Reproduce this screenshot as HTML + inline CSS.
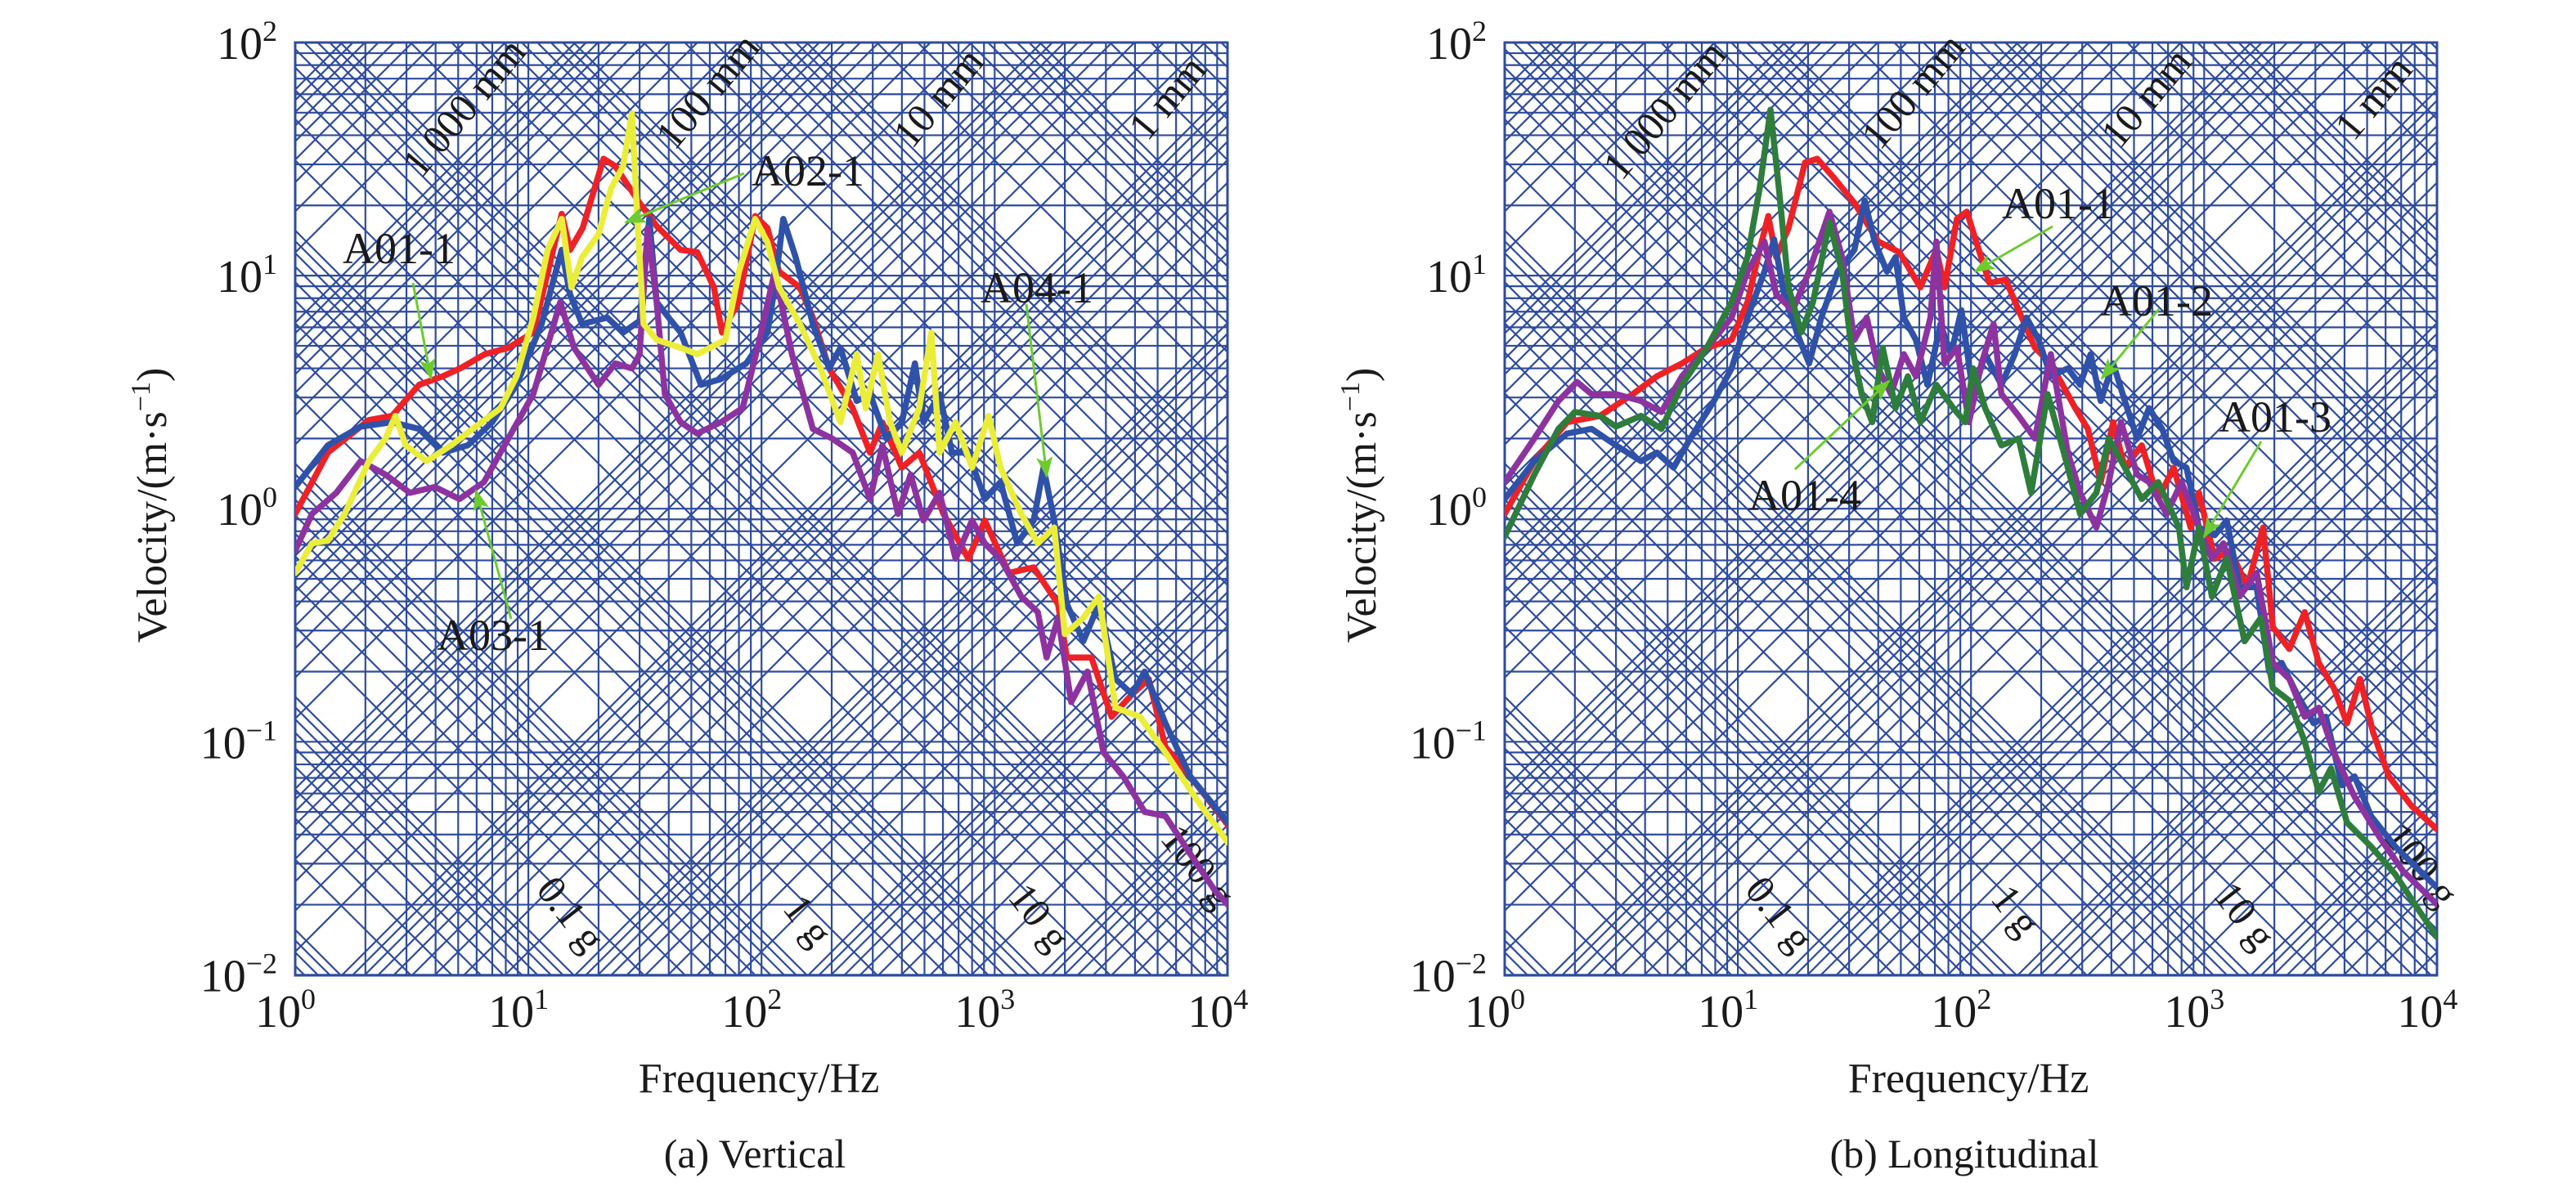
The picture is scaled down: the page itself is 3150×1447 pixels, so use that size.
<!DOCTYPE html>
<html><head><meta charset="utf-8"><title>Tripartite velocity spectra</title>
<style>
html,body{margin:0;padding:0;background:#fff;width:3150px;height:1447px;overflow:hidden;}
svg{display:block;}
text{font-family:"Liberation Serif","Times New Roman",serif;fill:#1a1a1a;}
</style></head>
<body>
<svg id="chart" width="3150" height="1447" viewBox="0 0 3150 1447" xmlns="http://www.w3.org/2000/svg" style="overflow:hidden">
<defs>
<marker id="ah" markerWidth="26" markerHeight="20" refX="24" refY="10" orient="auto" markerUnits="userSpaceOnUse">
<path d="M0,0 L26,10 L0,20 L6,10 z" fill="#6ccb2e"/>
</marker>
<clipPath id="clipL"><rect x="361" y="52" width="1140" height="1141"/></clipPath>
<clipPath id="clipR"><rect x="1840" y="52" width="1140" height="1141"/></clipPath>
</defs>
</svg>
<script>
// ---------- Data: (a) Vertical ----------
const freqV_A01_1=[1,1.38,2.07,2.6,3.4,4.3,5.1,6.5,8.2,10.5,12.3,13.9,15.1,17.1,21,23.6,30,35.5,45,53,62.5,67.7,79.6,94,106,119,146,166,195,246,292,330,400,475,603,710,771,907,1150,1470,1870,2040,2600,3170,3890,4580,5400,6900,10000];
const velV_A01_1=[0.95,1.74,2.4,2.5,3.4,3.7,4.0,4.6,4.9,5.7,11,18.4,12.9,16,31.7,29.5,20.5,16.3,12.9,12.6,8.9,5.7,7.7,18,16,10.4,8.9,6.6,4.0,2.7,1.74,2.34,1.5,1.74,0.95,0.71,0.61,0.89,0.53,0.56,0.39,0.23,0.23,0.128,0.16,0.186,0.095,0.071,0.044];
const freqV_A02_1=[1,1.38,1.91,2.6,3.4,4.3,5.5,7,8.9,11.4,13.9,15.1,17,21.8,25.5,30,33,35.5,40,45,55,67,86,106,114,124,140,166,195,218,256,292,343,400,455,495,580,656,771,907,1060,1250,1470,1620,1800,2040,2400,2800,3300,3890,4400,5400,6900,10000];
const velV_A02_1=[1.24,1.87,2.25,2.35,2.2,1.74,1.87,2.35,3.4,6.2,12.9,8.3,6.2,6.6,5.7,6.4,17.5,7.7,6.6,5.7,3.4,3.6,4.2,5.7,8.9,17.5,12,6.2,4.0,4.9,2.9,3.1,2.0,2.35,4.2,2.35,3.1,1.74,1.74,1.1,1.3,0.71,0.89,1.5,0.89,0.39,0.27,0.39,0.186,0.16,0.2,0.12,0.071,0.045];
const freqV_A04_1=[1,1.18,1.38,1.63,2.07,2.44,2.69,2.98,3.66,4.66,5.95,7.6,8.9,10.5,12.1,13.9,15.3,17,20,22.6,25.5,27.8,29.5,31.2,35.5,45,53,62.5,70,80,94,106,119,146,179,218,256,280,316,356,400,475,535,580,680,800,942,1060,1300,1530,1800,2000,2400,2800,3300,4200,5400,7400,10000];
const velV_A04_1=[0.53,0.71,0.73,0.95,1.6,2.0,2.5,1.87,1.6,1.87,2.25,2.7,3.7,6.6,12.9,17.5,8.9,12,15,23.6,29.5,49.6,16,6.2,5.3,4.9,4.6,5,5.3,10.4,17.5,13.9,8.9,6.2,4,2.35,4.6,2.7,4.6,2.35,1.74,2.7,5.7,1.74,2.35,1.5,2.5,1.5,0.95,0.71,0.83,0.29,0.34,0.42,0.14,0.128,0.09,0.056,0.037];
const freqV_A03_1=[1,1.18,1.5,1.91,2.44,3.1,3.97,5.06,6.45,8.2,10.5,12.3,13.7,15.7,20,23.6,27.8,30,32.5,35.5,38.5,45,53,67,83,98,114,135,166,201,246,292,330,385,436,495,580,680,800,907,1060,1300,1530,1670,1870,2130,2500,2930,3560,4400,5400,6900,8800,10000];
const velV_A03_1=[0.66,0.95,1.17,1.6,1.4,1.17,1.24,1.1,1.3,2.0,3.1,5.3,7.7,4.9,3.4,4.2,4.0,4.6,16,7.7,3.1,2.35,2.1,2.35,2.7,5.3,10.4,4.6,2.2,2.0,1.74,1.1,1.87,0.95,1.4,0.89,1.17,0.61,0.89,0.71,0.61,0.42,0.36,0.23,0.34,0.148,0.2,0.09,0.071,0.05,0.048,0.033,0.023,0.02];
// ---------- Data: (b) Longitudinal ----------
const freqL_A01_1=[1,1.34,1.85,2.56,3.54,4.5,5.76,7.36,9.4,11,12.4,13.5,14.6,16.5,19.4,21.9,25.8,31.6,40,49.3,60.6,71,77,87,96,108,120,141,160,188,220,280,317,360,407,457,540,635,740,875,950,1110,1300,1530,1790,1970,2320,2700,3100,3600,4100,4660,5300,6200,7760,10000];
const velL_A01_1=[0.95,1.6,2.35,2.5,3.1,3.7,4.2,4.9,5.3,7.7,12.9,18,12,16,30.5,31.7,26.3,20.5,14,12.6,8.9,12.9,8.9,17.5,18.8,12.9,9.3,9.6,7.1,4.9,4.2,2.7,2.2,1.3,2.35,1.5,1.87,1.1,1.5,0.83,1.17,0.61,0.66,0.46,0.83,0.31,0.25,0.36,0.218,0.17,0.12,0.186,0.11,0.071,0.053,0.042];
const freqL_A01_2=[1,1.34,1.85,2.36,3.0,3.84,4.5,5.3,6.25,7.9,9.4,11,13,14.3,15.8,17.9,20.2,22.8,26.8,31.6,35,38.6,43.6,47.5,51.5,58,65,74,82,91,102,115,135,154,173,195,220,260,294,326,360,407,457,516,580,660,740,840,950,1110,1250,1420,1680,1900,2150,2500,2950,3330,3900,4420,5200,6600,8400,10000];
const velL_A01_2=[1.1,1.6,2.1,2.2,1.87,1.6,1.74,1.5,2.0,2.9,4.0,6.6,10.4,14.3,8.3,5.7,4.2,6.6,10.4,12.9,21,14,10.4,12,6.6,5.3,3.4,6.2,4.6,7.1,3.1,4.6,3.4,4.6,6.6,5.3,3.7,4.0,3.4,4.6,2.9,4.2,2.9,2.0,2.7,2.2,1.6,1.5,0.83,0.77,0.89,0.46,0.46,0.2,0.218,0.16,0.12,0.128,0.065,0.071,0.048,0.0355,0.028,0.0236];
const freqL_A01_3=[1,1.34,1.7,2.04,2.36,3,3.84,4.7,5.76,7.36,9.4,11,13,14.6,17.2,20.2,24.7,28,31.6,35.7,40,45.4,51.5,58,67,71,77,87,98,111,125,135,160,188,220,260,294,345,390,440,516,580,690,800,950,1080,1210,1420,1680,1970,2320,2700,3100,3600,4420,5650,7100,10000];
const velL_A01_3=[1.3,2.0,2.9,3.5,3.1,3.1,2.9,2.6,3.7,4.9,6.6,10.4,14,8.3,7.1,10.4,18.8,12,5.3,6.6,4,3.1,4.6,3.7,6.6,14,4.2,4.9,2.35,4.2,6.2,3.1,2.5,2.0,4.6,1.74,1.17,0.83,1.3,2.35,1.4,1.3,0.95,1.3,0.83,0.61,0.71,0.42,0.53,0.218,0.186,0.128,0.14,0.09,0.058,0.039,0.028,0.02];
const freqL_A01_4=[1,1.34,1.7,2,2.56,3,3.84,4.7,5.76,7.36,9.4,11,12.4,13.8,15,16.5,18.7,21,24.7,28,30.4,34,37.7,41.8,47.5,53.6,60.6,71,84,94.5,102,115,135,160,181,213,250,294,345,390,457,540,635,780,840,950,1080,1250,1490,1750,1970,2320,2700,3100,3500,4100,5200,6600,8400,10000];
const velL_A01_4=[0.76,1.4,2.2,2.6,2.5,2.25,2.5,2.2,3.4,4.9,7.7,12,23.6,51.5,23.6,8.9,5.7,7.7,16.9,10.4,5.3,3.1,2.35,4.9,2.7,3.7,2.35,3.4,2.7,2.35,4.0,2.7,1.87,2.0,1.17,3.1,1.74,0.95,1.17,2.0,1.5,1.1,1.3,0.83,0.46,0.83,0.42,0.61,0.27,0.34,0.17,0.15,0.1,0.061,0.077,0.045,0.0355,0.027,0.0187,0.0145];
// ---------- Grid levels ----------
const gridMultipliers=[1,2,3,4,5,6,7,8,9];
const dispDecades=[-9,-8,-7,-6,-5,-4,-3,-2,-1,0,1];
const accDecades=[-3,-2,-1,0,1,2,3,4,5,6];
const xTickExp=[0,1,2,3,4];
const yTickExp=[2,1,0,-1,-2];
const dispLabels=["1 000 mm","100 mm","10 mm","1 mm"];
const accLabels=["0.1 g","1 g","10 g","100 g"];

const NS="http://www.w3.org/2000/svg";
const svg=document.getElementById('chart');
const DEC=285.1, TOP=52, H=1141, W=1140;
function mk(tag,attrs,parent){const e=document.createElementNS(NS,tag);for(const k in attrs)e.setAttribute(k,attrs[k]);(parent||svg).appendChild(e);return e;}

function drawPanel(x0,clipId,series,panelName,title,labels,dispPos,accPos){
  const g=mk('g',{});
  
  
  const xs=f=>x0+Math.log10(f)*DEC;
  const ys=v=>TOP+(2-Math.log10(v))*DEC;
  const grid=mk('g',{'clip-path':'url(#'+clipId+')',stroke:'#2e4b9d','stroke-width':2.2,fill:'none'},g);
  
  
  for(let e=0;e<4;e++)for(const m of gridMultipliers){const x=xs(m*Math.pow(10,e));mk('line',{x1:x,y1:TOP,x2:x,y2:TOP+H},grid);}
  for(let e=-2;e<2;e++)for(const m of gridMultipliers){const y=ys(m*Math.pow(10,e));mk('line',{x1:x0,y1:y,x2:x0+W,y2:y},grid);}
  for(const e of dispDecades)for(const m of gridMultipliers){const D=m*Math.pow(10,e);const f1=1,f2=1e4;
    mk('line',{x1:xs(f1),y1:ys(2*Math.PI*f1*D),x2:xs(f2),y2:ys(2*Math.PI*f2*D)},grid);}
  for(const e of accDecades)for(const m of gridMultipliers){const A=m*Math.pow(10,e)*9.81;const f1=1,f2=1e4;
    mk('line',{x1:xs(f1),y1:ys(A/(2*Math.PI*f1)),x2:xs(f2),y2:ys(A/(2*Math.PI*f2))},grid);}
  mk('rect',{x:x0,y:TOP,width:W,height:H,fill:'none',stroke:'#2e4b9d','stroke-width':3},g);
  dispLabels.forEach((t,i)=>{const p=dispPos[i];const tx=mk('text',{x:p[0],y:p[1],'font-size':50,'text-anchor':'middle',transform:'rotate(-50 '+p[0]+' '+p[1]+')'},g);tx.textContent=t;
    
    });
  accLabels.forEach((t,i)=>{const p=accPos[i];const tx=mk('text',{x:p[0],y:p[1],'font-size':50,'text-anchor':'middle',transform:'rotate(52 '+p[0]+' '+p[1]+')'},g);tx.textContent=t;
    
    });
  const sg=mk('g',{'clip-path':'url(#'+clipId+')'},g);
  series.forEach(s=>{let d='';s.f.forEach((f,i)=>{d+=(i?'L':'M')+xs(f).toFixed(1)+','+ys(s.v[i]).toFixed(1);});
    const p=mk('path',{d:d,fill:'none',stroke:s.c,'stroke-width':7.5,'stroke-linejoin':'round','stroke-linecap':'round'},sg);
    
    });
  xTickExp.forEach(e=>{const x=xs(Math.pow(10,e));const t=mk('text',{x:x-12,y:1256,'font-size':56,'text-anchor':'middle'},g);
    t.innerHTML='10<tspan dy="-22" font-size="36">'+e+'</tspan>';
    
    });
  yTickExp.forEach(e=>{const y=ys(Math.pow(10,e));const t=mk('text',{x:x0-22,y:y+20,'font-size':56,'text-anchor':'end'},g);
    t.innerHTML='10<tspan dy="-22" font-size="36">'+(e<0?'\u2212'+(-e):e)+'</tspan>';
    
    });
  const cx=x0+W/2;
  const yt=mk('text',{x:0,y:0,'font-size':52,'text-anchor':'middle',transform:'translate('+(x0-158)+' 618) rotate(-90)'},g);
  yt.innerHTML='Velocity/(m\u00b7s<tspan dy="-20" font-size="34">\u22121</tspan><tspan dy="20">)</tspan>';
  
  
  const xt=mk('text',{x:cx-3,y:1336,'font-size':52,'text-anchor':'middle'},g);xt.textContent='Frequency/Hz';
  
  
  const ct=mk('text',{x:cx-8,y:1428,'font-size':50,'text-anchor':'middle'},g);ct.textContent=title;
  
  
  labels.forEach(l=>{const t=mk('text',{x:l.tx,y:l.ty,'font-size':54,'text-anchor':'middle'},g);t.textContent=l.t;
    
    
    const a=mk('line',{x1:l.a[0],y1:l.a[1],x2:l.a[2],y2:l.a[3],stroke:'#6ccb2e','stroke-width':3,'marker-end':'url(#ah)'},g);
    
    });
}

const RED='#ee2226',BLUE='#2f52a8',YEL='#eaee3a',PUR='#8d33a0',GRN='#2e7d3c';
drawPanel(361,'clipL',[
 {n:'series-a01-1',c:RED,f:freqV_A01_1,v:velV_A01_1},
 {n:'series-a02-1',c:BLUE,f:freqV_A02_1,v:velV_A02_1},
 {n:'series-a03-1',c:PUR,f:freqV_A03_1,v:velV_A03_1},
 {n:'series-a04-1',c:YEL,f:freqV_A04_1,v:velV_A04_1}
],'panel-vertical','(a) Vertical',[
 {t:'A01-1',tx:488,ty:322,a:[505,346,527,463]},
 {t:'A02-1',tx:988,ty:227,a:[910,212,765,272]},
 {t:'A04-1',tx:1268,ty:370,a:[1255,372,1280,583]},
 {t:'A03-1',tx:603,ty:795,a:[625,757,582,600]}
],[[580,142],[878,122],[1160,130],[1440,130]],[[685,1128],[975,1136],[1258,1132],[1452,1070]]);

drawPanel(1840,'clipR',[
 {n:'series-a01-1',c:RED,f:freqL_A01_1,v:velL_A01_1},
 {n:'series-a01-2',c:BLUE,f:freqL_A01_2,v:velL_A01_2},
 {n:'series-a01-3',c:PUR,f:freqL_A01_3,v:velL_A01_3},
 {n:'series-a01-4',c:GRN,f:freqL_A01_4,v:velL_A01_4}
],'panel-longitudinal','(b) Longitudinal',[
 {t:'A01-1',tx:2517,ty:267,a:[2510,277,2415,332]},
 {t:'A01-2',tx:2637,ty:386,a:[2640,378,2570,463]},
 {t:'A01-3',tx:2782,ty:528,a:[2765,540,2695,657]},
 {t:'A01-4',tx:2207,ty:624,a:[2195,574,2310,466]}
],[[2048,145],[2352,122],[2637,130],[2915,130]],[[2163,1128],[2452,1124],[2732,1130],[2948,1068]]);
</script>
</body></html>
